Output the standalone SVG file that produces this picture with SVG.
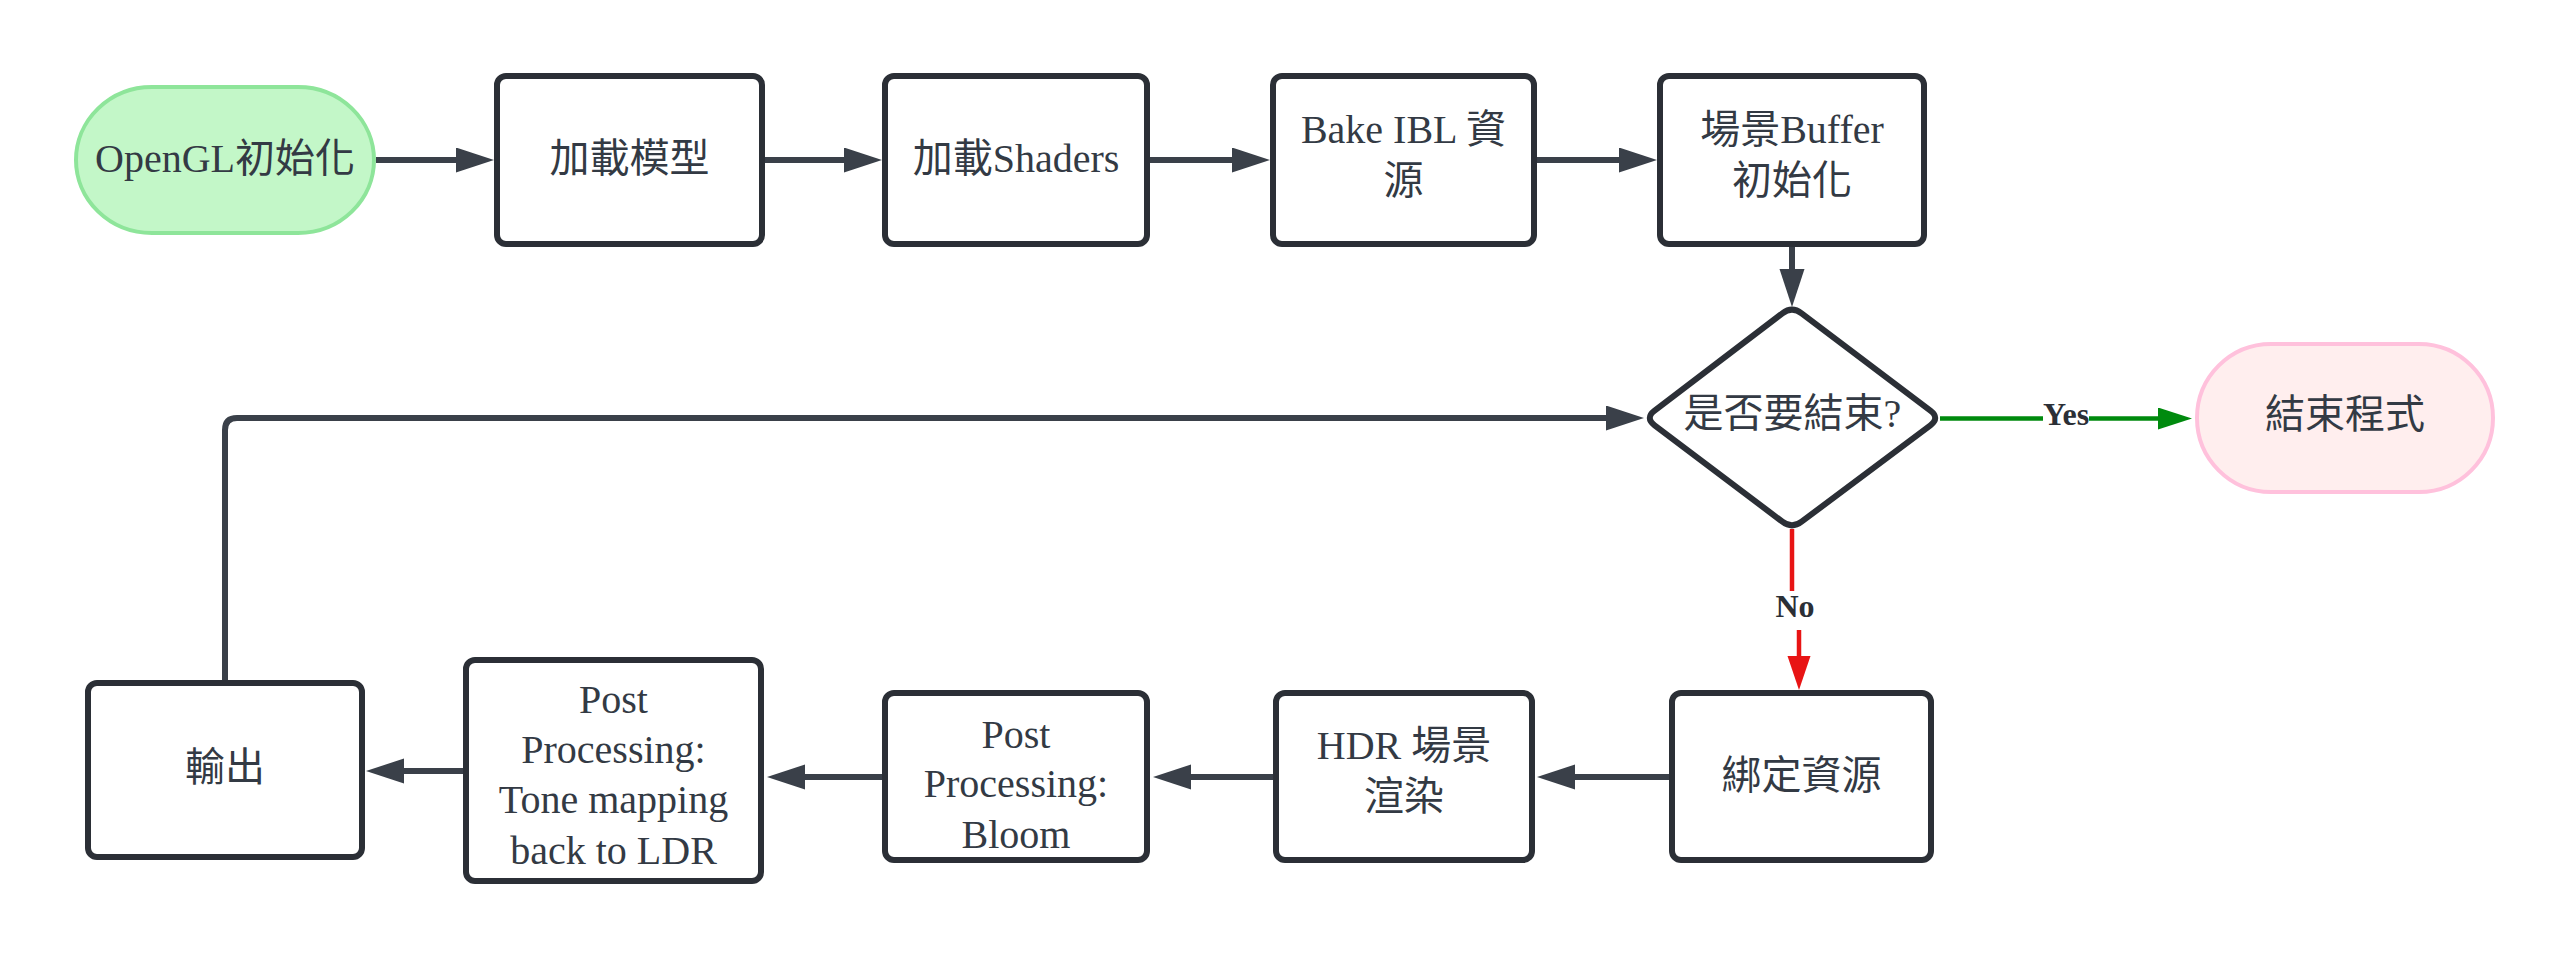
<svg xmlns="http://www.w3.org/2000/svg" width="2571" height="958" viewBox="0 0 2571 958">
<style>
.box{fill:#ffffff;stroke:#2b2f36;stroke-width:6}
.start{fill:#c3f7c8;stroke:#8ee59a;stroke-width:4}
.end{fill:#ffeeee;stroke:#ffc1dc;stroke-width:4}
.t{font-family:"Liberation Serif","Noto Sans CJK TC",serif;font-size:40px;fill:#333a44;text-anchor:middle}
.lbl{font-family:"Liberation Serif","Noto Sans CJK TC",serif;font-size:32px;font-weight:bold;fill:#2b2f36;text-anchor:middle}
.c{fill:none;stroke:#3a4049;stroke-width:6}
.cy{fill:none;stroke:#008a0e;stroke-width:4.5}
.cn{fill:none;stroke:#e81414;stroke-width:4.5}
</style>
<defs>
<marker id="ag" markerUnits="userSpaceOnUse" markerWidth="40" markerHeight="26" refX="18" refY="12.5" orient="auto" viewBox="0 0 40 26"><path d="M0,0 L38,12.5 L0,25 Z" fill="#3a4049"/></marker>
<marker id="ay" markerUnits="userSpaceOnUse" markerWidth="36" markerHeight="24" refX="14" refY="11" orient="auto" viewBox="0 0 36 24"><path d="M0,0 L34,11 L0,22 Z" fill="#008a0e"/></marker>
<marker id="an" markerUnits="userSpaceOnUse" markerWidth="36" markerHeight="24" refX="14" refY="11.5" orient="auto" viewBox="0 0 36 24"><path d="M0,0 L34,11.5 L0,23 Z" fill="#e81414"/></marker>
</defs>
<rect width="2571" height="958" fill="#ffffff"/>
<g id="connectors">
<path class="c" d="M376,160 H474" marker-end="url(#ag)"/>
<path class="c" d="M765,160 H862" marker-end="url(#ag)"/>
<path class="c" d="M1150,160 H1250" marker-end="url(#ag)"/>
<path class="c" d="M1537,160 H1637" marker-end="url(#ag)"/>
<path class="c" d="M1792,247 V287" marker-end="url(#ag)"/>
<path class="cy" d="M1940,418.5 H2043"/>
<path class="cy" d="M2089,418.5 H2172" marker-end="url(#ay)"/>
<text class="lbl" x="2066" y="425">Yes</text>
<path class="cn" d="M1792,529 V591"/>
<path class="cn" d="M1799,630 V670" marker-end="url(#an)"/>
<text class="lbl" x="1795" y="617">No</text>
<path class="c" d="M1669,777 H1557" marker-end="url(#ag)"/>
<path class="c" d="M1273,777 H1173" marker-end="url(#ag)"/>
<path class="c" d="M882,777 H787" marker-end="url(#ag)"/>
<path class="c" d="M463,771 H386" marker-end="url(#ag)"/>
<path class="c" d="M225,680 V430 Q225,418 237,418 H1624" marker-end="url(#ag)"/>
</g>
<g id="n-start">
<rect class="start" x="76" y="87" width="298" height="146" rx="76" ry="73"/>
<text class="t" x="225" y="172">OpenGL初始化</text>
</g>
<g id="n-load-model">
<rect class="box" x="497" y="76" width="265" height="168" rx="9"/>
<text class="t" x="629.5" y="172">加載模型</text>
</g>
<g id="n-load-shaders">
<rect class="box" x="885" y="76" width="262" height="168" rx="9"/>
<text class="t" x="1016" y="172">加載Shaders</text>
</g>
<g id="n-bake-ibl">
<rect class="box" x="1273" y="76" width="261" height="168" rx="9"/>
<text class="t" x="1403.5" y="143">Bake IBL 資</text>
<text class="t" x="1403.5" y="194">源</text>
</g>
<g id="n-scene-buffer">
<rect class="box" x="1660" y="76" width="264" height="168" rx="9"/>
<text class="t" x="1792" y="143">場景Buffer</text>
<text class="t" x="1792" y="194">初始化</text>
</g>
<g id="n-decision">
<path class="box" d="M1801.6,313.3 L1930.4,410.7 Q1940,418 1930.4,425.3 L1801.6,521.7 Q1792,529 1782.4,521.7 L1654.6,425.3 Q1645,418 1654.6,410.7 L1782.4,313.3 Q1792,306 1801.6,313.3 Z"/>
<text class="t" x="1792.5" y="427">是否要結束?</text>
</g>
<g id="n-end">
<rect class="end" x="2197" y="344" width="296" height="148" rx="74" ry="74"/>
<text class="t" x="2345" y="428">結束程式</text>
</g>
<g id="n-bind">
<rect class="box" x="1672" y="693" width="259" height="167" rx="9"/>
<text class="t" x="1801.5" y="789">綁定資源</text>
</g>
<g id="n-hdr">
<rect class="box" x="1276" y="693" width="256" height="167" rx="9"/>
<text class="t" x="1404" y="759">HDR 場景</text>
<text class="t" x="1404" y="810">渲染</text>
</g>
<g id="n-bloom">
<rect class="box" x="885" y="693" width="262" height="167" rx="9"/>
<text class="t" x="1016" y="748">Post</text>
<text class="t" x="1016" y="797">Processing:</text>
<text class="t" x="1016" y="848">Bloom</text>
</g>
<g id="n-tonemap">
<rect class="box" x="466" y="660" width="295" height="221" rx="9"/>
<text class="t" x="613.5" y="713">Post</text>
<text class="t" x="613.5" y="763">Processing:</text>
<text class="t" x="613.5" y="813">Tone mapping</text>
<text class="t" x="613.5" y="864">back to LDR</text>
</g>
<g id="n-output">
<rect class="box" x="88" y="683" width="274" height="174" rx="9"/>
<text class="t" x="225" y="781">輸出</text>
</g>
</svg>
